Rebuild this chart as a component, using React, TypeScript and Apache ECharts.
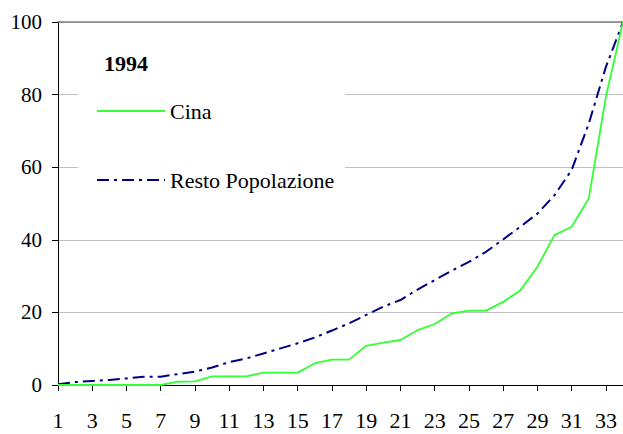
import { useEffect, useRef } from "react";
import * as echarts from "echarts";

const categories = [
  "1", "2", "3", "4", "5", "6", "7", "8", "9", "10", "11", "12", "13", "14", "15", "16", "17",
  "18", "19", "20", "21", "22", "23", "24", "25", "26", "27", "28", "29", "30", "31", "32", "33", "34",
];

const cinaValues = [
  0, 0, 0, 0, 0, 0, 0, 0.9, 1, 2.4, 2.4, 2.4, 3.4, 3.4, 3.4, 6, 7, 7, 10.8, 11.7, 12.4, 15.1, 16.8,
  19.7, 20.5, 20.5, 22.9, 26, 32.6, 41.3, 43.6, 51.4, 79.4, 100,
];

const restoValues = [
  0.2, 0.8, 1.1, 1.4, 1.8, 2.3, 2.3, 3, 3.7, 4.8, 6.3, 7.3, 8.7, 10.1, 11.5, 13.1, 15, 17, 19.3,
  21.6, 23.4, 26.3, 28.9, 31.5, 33.9, 36.7, 40.1, 43.6, 47.2, 52.3, 59.2, 72, 87.6, 100,
];

const seriesNames = ["Cina", "Resto Popolazione"];
const legendTitle = "1994";

const FONT = "Liberation Serif";
const GREEN = "#33ff33";
const NAVY = "#000080";
const DASH = [12, 5, 3, 5];

export default function App() {
  const ref = useRef<HTMLDivElement>(null);

  useEffect(() => {
    if (!ref.current) return;
    const chart = echarts.init(ref.current, undefined, { renderer: "svg" });
    chart.setOption({
      animation: false,
      backgroundColor: "#ffffff",
      textStyle: { fontFamily: FONT },
      grid: { left: 58, right: 0, top: 22, bottom: 49 },
      xAxis: [
        {
          type: "category",
          data: categories,
          boundaryGap: false,
          axisLine: { show: true, lineStyle: { color: "#000", width: 1 } },
          axisTick: { show: true, interval: 1, length: 6, lineStyle: { color: "#000" } },
          axisLabel: {
            interval: 1,
            margin: 24,
            color: "#000",
            fontFamily: FONT,
            fontSize: 22,
          },
          splitLine: { show: false },
        },
        {
          type: "category",
          data: categories,
          boundaryGap: false,
          position: "top",
          axisLine: { show: true, lineStyle: { color: "#808080", width: 1.5 } },
          axisTick: { show: false },
          axisLabel: { show: false },
          splitLine: { show: false },
        },
      ],
      yAxis: {
        type: "value",
        min: 0,
        max: 100,
        interval: 20,
        axisLine: { show: true, lineStyle: { color: "#000", width: 1 } },
        axisTick: { show: true, length: 6, lineStyle: { color: "#000" } },
        axisLabel: {
          margin: 16,
          color: "#000",
          fontFamily: FONT,
          fontSize: 21,
        },
        splitLine: { show: true, lineStyle: { color: "#c0c0c0", width: 1 } },
      },
      series: [
        {
          name: seriesNames[0],
          type: "line",
          data: cinaValues,
          symbol: "none",
          lineStyle: { color: GREEN, width: 1.8 },
          itemStyle: { color: GREEN },
          z: 3,
        },
        {
          name: seriesNames[1],
          type: "line",
          data: restoValues,
          symbol: "none",
          lineStyle: { color: NAVY, width: 2, type: DASH },
          itemStyle: { color: NAVY },
          z: 2,
        },
      ],
      graphic: [
        {
          type: "rect",
          shape: { x: 78, y: 30, width: 267, height: 185 },
          style: { fill: "#ffffff" },
          z: 10,
        },
        {
          type: "text",
          x: 104,
          y: 63,
          z: 11,
          style: {
            text: legendTitle,
            fill: "#000",
            fontFamily: FONT,
            fontSize: 22,
            fontWeight: "bold",
            verticalAlign: "middle",
          },
        },
        {
          type: "line",
          z: 11,
          shape: { x1: 97, y1: 111, x2: 165, y2: 111 },
          style: { stroke: GREEN, lineWidth: 1.8 },
        },
        {
          type: "text",
          x: 170,
          y: 111,
          z: 11,
          style: {
            text: seriesNames[0],
            fill: "#000",
            fontFamily: FONT,
            fontSize: 22,
            verticalAlign: "middle",
          },
        },
        {
          type: "line",
          z: 11,
          shape: { x1: 97, y1: 180, x2: 165, y2: 180 },
          style: { stroke: NAVY, lineWidth: 2, lineDash: DASH },
        },
        {
          type: "text",
          x: 170,
          y: 180,
          z: 11,
          style: {
            text: seriesNames[1],
            fill: "#000",
            fontFamily: FONT,
            fontSize: 22,
            verticalAlign: "middle",
          },
        },
      ],
    });
    return () => chart.dispose();
  }, []);

  return (
    <div
      ref={ref}
      style={{ position: "fixed", left: 0, top: 0, width: 623, height: 434, background: "#fff" }}
    />
  );
}
